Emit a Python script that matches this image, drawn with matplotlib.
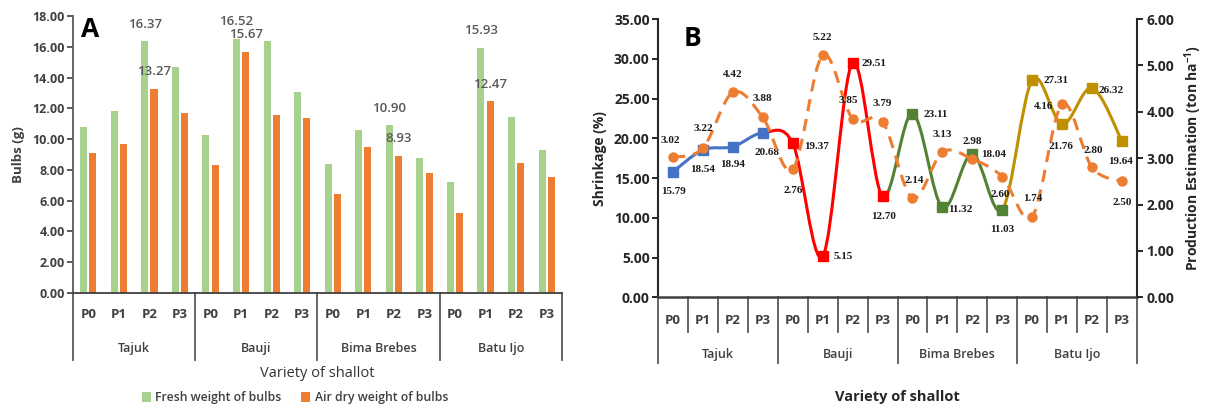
import numpy as np
import matplotlib
matplotlib.use("Agg")
import matplotlib.pyplot as plt
from matplotlib.path import Path
from matplotlib.patches import PathPatch

# ---- data ----
varieties = ["Tajuk", "Bauji", "Bima Brebes", "Batu Ijo"]
treatments = ["P0", "P1", "P2", "P3"]

fresh_weight = [10.77, 11.85, 16.37, 14.70,
                10.29, 16.52, 16.39, 13.08,
                8.36, 10.59, 10.90, 8.77,
                7.21, 15.93, 11.46, 9.31]
dry_weight = [9.08, 9.68, 13.27, 11.67,
              8.30, 15.67, 11.57, 11.39,
              6.43, 9.47, 8.93, 7.82,
              5.22, 12.47, 8.42, 7.52]
labelled_bars = [2, 5, 10, 13]

shrinkage = [15.79, 18.54, 18.94, 20.68,
             19.37, 5.15, 29.51, 12.70,
             23.11, 11.32, 18.04, 11.03,
             27.31, 21.76, 26.32, 19.64]
production = [3.02, 3.22, 4.42, 3.88,
              2.76, 5.22, 3.85, 3.79,
              2.14, 3.13, 2.98, 2.60,
              1.74, 4.16, 2.80, 2.50]

# label offsets in pixels (dx, dy)
shrink_off = [(0, -20), (0, -20), (0, -18), (4, -20),
              (24, -3), (21, 0), (21, -1), (1, -20),
              (23, -1), (18, -2), (21, -1), (0, -20),
              (24, 0), (-1, -22), (19, -2), (-1, -20)]
prod_off = [(-3, 17), (0, 19), (0, 18), (0, 19),
            (0, -21), (0, 18), (-4, 18), (0, 18),
            (2, 18), (0, 18), (0, 18), (-2, -18),
            (1, 18), (-19, -2), (1, 17), (0, -21)]

GREEN = "#A9D18E"
ORANGE = "#ED7D31"
group_colors = ["#4472C4", "#FF0000", "#548235", "#BF9000"]
TXT = "#404040"

plt.rcParams['font.family'] = ['Open Sans', 'DejaVu Sans']
plt.rcParams['font.weight'] = 'bold'
plt.rcParams['mathtext.fontset'] = 'custom'
plt.rcParams['mathtext.rm'] = 'Open Sans:bold'
plt.rcParams['mathtext.default'] = 'rm'

n = len(fresh_weight)
x = np.arange(n)
tick_labels = treatments * len(varieties)


def bezier_segments(xs, ys):
    segs = []
    m = len(xs)
    for i in range(m - 1):
        a = max(i - 1, 0)
        d = min(i + 2, m - 1)
        c1 = (xs[i] + (xs[i + 1] - xs[a]) / 6, ys[i] + (ys[i + 1] - ys[a]) / 6)
        c2 = (xs[i + 1] - (xs[d] - xs[i]) / 6, ys[i + 1] - (ys[d] - ys[i]) / 6)
        segs.append([(xs[i], ys[i]), c1, c2, (xs[i + 1], ys[i + 1])])
    return segs


def category_axis(ax, p_y, grp_y, short_len, long_len, grp_weight):
    tr = ax.get_xaxis_transform()
    ax.set_xticks([])
    for i, lab in enumerate(tick_labels):
        ax.text(i, p_y, lab, transform=tr, ha="center", va="center",
                fontsize=9.5, fontweight="bold", color=TXT)
    for g, name in enumerate(varieties):
        ax.text(g * 4 + 1.5, grp_y, name, transform=tr, ha="center", va="center",
                fontsize=9, fontweight=grp_weight, color=TXT)
    for b in range(n + 1):
        if b % 4 == 0:
            ax.plot([b - 0.5, b - 0.5], [0, long_len], transform=tr, color="#595959",
                    lw=1.3, clip_on=False)
        elif short_len:
            ax.plot([b - 0.5, b - 0.5], [0, short_len], transform=tr, color="#595959",
                    lw=1.3, clip_on=False)


fig = plt.figure(figsize=(12.09, 4.09), dpi=100)

# ---------- panel A ----------
axA = fig.add_axes([0.0604, 0.2836, 0.4044, 0.6773])
bars_f = axA.bar(x - 0.15, fresh_weight, width=0.23, color=GREEN, label="Fresh weight of bulbs")
bars_d = axA.bar(x + 0.15, dry_weight, width=0.23, color=ORANGE, label="Air dry weight of bulbs")
for i in labelled_bars:
    axA.annotate(f"{fresh_weight[i]:.2f}", (x[i] - 0.15, fresh_weight[i]), xytext=(0, 17),
                 textcoords="offset pixels", ha="center", va="center", fontsize=9.5,
                 fontweight="semibold", color="#595959")
    axA.annotate(f"{dry_weight[i]:.2f}", (x[i] + 0.15, dry_weight[i]), xytext=(0, 17),
                 textcoords="offset pixels", ha="center", va="center", fontsize=9.5,
                 fontweight="semibold", color="#595959")
axA.set_xlim(-0.5, n - 0.5)
axA.set_ylim(0, 18)
axA.set_yticks(np.arange(0, 18.1, 2))
axA.yaxis.set_major_formatter(plt.FormatStrFormatter("%.2f"))
axA.tick_params(axis="y", labelsize=9, colors=TXT, length=4, width=1.2, pad=2)
for s in ["top", "right"]:
    axA.spines[s].set_visible(False)
axA.spines["left"].set_color("#595959")
axA.spines["left"].set_linewidth(1.3)
axA.spines["bottom"].set_color("#404040")
axA.spines["bottom"].set_linewidth(1.3)
category_axis(axA, -0.079, -0.202, None, -0.242, "semibold")
axA.text(0.5, -0.292, "Variety of shallot", transform=axA.transAxes, ha="center", va="center",
         fontsize=10.5, fontweight="normal", color="#333333")
axA.set_ylabel("Bulbs (g)", fontsize=9.5, fontweight="bold", color=TXT, labelpad=5)
axA.text(0.036, 0.95, "A", transform=axA.transAxes, fontsize=19, fontweight="bold",
         ha="center", va="center")
fig.legend(handles=[bars_f, bars_d], loc="center", bbox_to_anchor=(0.244, 0.027), ncol=2,
           frameon=False, handlelength=0.7, handleheight=0.9, handletextpad=0.4,
           columnspacing=1.6, prop={"size": 8.8, "weight": "semibold"}, labelcolor=TXT)

# ---------- panel B ----------
axB = fig.add_axes([0.5443, 0.2731, 0.3961, 0.6804])
axB.set_xlim(-0.5, n - 0.5)
axB.set_ylim(0, 35)
segs = bezier_segments(x, shrinkage)
for i, sg in enumerate(segs):
    col = group_colors[(i + 1) // 4]
    axB.add_patch(PathPatch(Path(sg, [Path.MOVETO, Path.CURVE4, Path.CURVE4, Path.CURVE4]),
                            fill=False, edgecolor=col, lw=2.2, zorder=2))
for g in range(4):
    sl = slice(g * 4, g * 4 + 4)
    axB.plot(x[sl], shrinkage[g * 4:g * 4 + 4], "s", color=group_colors[g], ms=6.5, zorder=3)
for i, v in enumerate(shrinkage):
    axB.annotate(f"{v:.2f}", (x[i], v), xytext=shrink_off[i], textcoords="offset pixels",
                 ha="center", va="center", fontsize=8, fontweight="bold",
                 family="Liberation Serif", color="#1a1a1a")
axB.set_yticks(np.arange(0, 35.1, 5))
axB.yaxis.set_major_formatter(plt.FormatStrFormatter("%.2f"))
axB.tick_params(axis="y", labelsize=10, colors="#262626", length=4, width=1.4, pad=2)
for s in ["top", "right"]:
    axB.spines[s].set_visible(False)
axB.spines["left"].set_linewidth(1.5)
axB.spines["left"].set_color("#262626")
axB.spines["bottom"].set_linewidth(1.8)
axB.spines["bottom"].set_color("#404040")
category_axis(axB, -0.082, -0.204, -0.125, -0.236, "semibold")
axB.text(0.5, -0.358, "Variety of shallot", transform=axB.transAxes, ha="center", va="center",
         fontsize=10.5, fontweight="bold", color="#262626")
axB.set_ylabel("Shrinkage (%)", fontsize=10, fontweight="bold", color="#262626", labelpad=5)
axB.text(0.072, 0.93, "B", transform=axB.transAxes, fontsize=19, fontweight="bold",
         ha="center", va="center")

ax2 = axB.twinx()
ax2.set_ylim(0, 6)
psegs = bezier_segments(x, production)
verts = [psegs[0][0]]
codes = [Path.MOVETO]
for sg in psegs:
    verts += sg[1:]
    codes += [Path.CURVE4] * 3
ax2.add_patch(PathPatch(Path(verts, codes), fill=False, edgecolor=ORANGE, lw=2.2,
                        linestyle=(0, (4, 2.6)), zorder=2))
ax2.plot(x, production, "o", color=ORANGE, ms=6.5, zorder=3)
for i, v in enumerate(production):
    ax2.annotate(f"{v:.2f}", (x[i], v), xytext=prod_off[i], textcoords="offset pixels",
                 ha="center", va="center", fontsize=8, fontweight="bold",
                 family="Liberation Serif", color="#1a1a1a")
ax2.set_yticks(np.arange(0, 6.1, 1))
ax2.yaxis.set_major_formatter(plt.FormatStrFormatter("%.2f"))
ax2.tick_params(axis="y", labelsize=10, colors="#262626", length=4, width=1.4, pad=3)
for s in ["top", "left", "bottom"]:
    ax2.spines[s].set_visible(False)
ax2.spines["right"].set_linewidth(1.5)
ax2.spines["right"].set_color("#262626")
ax2.set_ylabel("Production Estimation (ton ha$^{-1}$)", fontsize=10, fontweight="bold",
               color="#262626", labelpad=6)

fig.savefig("out.png", dpi=100)
